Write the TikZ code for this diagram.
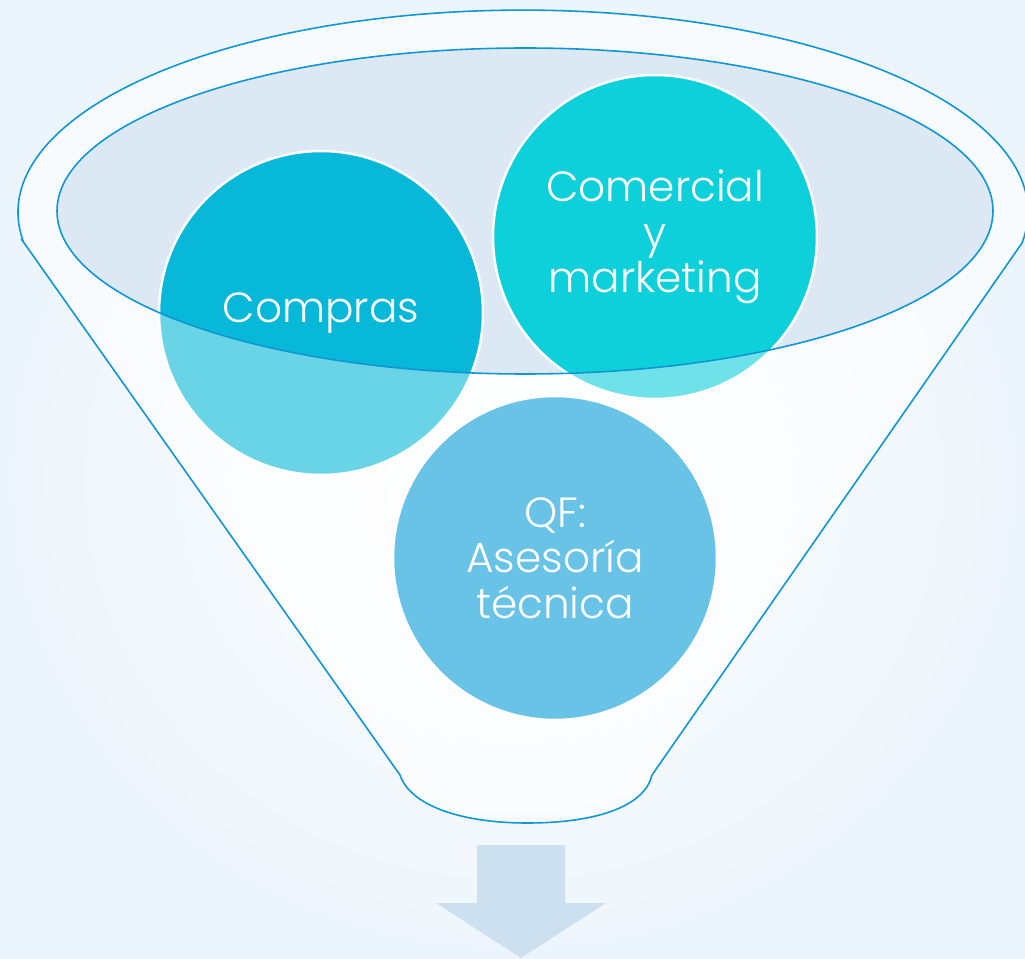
\documentclass[tikz,border=0pt]{standalone}
\usepackage{fontspec}
\setmainfont{Poppins}[UprightFont={* Light}]
\usepackage{tikz}
\usetikzlibrary{positioning}

\definecolor{bgblue}{HTML}{EDF5FC}
\definecolor{rimblue}{HTML}{0E96D5}
\definecolor{mouth}{HTML}{DCE8F4}
\definecolor{comprasdark}{HTML}{07B8D9}
\definecolor{comprasdim}{HTML}{6AD4E7}
\definecolor{comercdark}{HTML}{0DD0DA}
\definecolor{comercdim}{HTML}{6EE2E8}
\definecolor{qfblue}{HTML}{68C3E7}
\definecolor{arrowblue}{HTML}{CDE0F0}

\tikzset{
  rim/.style={draw=rimblue, line width=0.9pt},
  bubble/.style={circle, draw=white, line width=1.4pt, minimum size=6.48cm,
    inner sep=0pt, align=center, text=white, font=\fontsize{24}{26}\selectfont},
  intop/.style={path picture={\fill[#1] (mouthc) ellipse [x radius=468, y radius=163];}}
}

\begin{document}
\begin{tikzpicture}[x=0.02cm, y=-0.02cm]
      \shade [inner color=white, outer color=bgblue] (0, 0) rectangle (1025, 959);
      \useasboundingbox (0, 0) rectangle (1025, 959);
      \coordinate (mouthc) at (525, 211);

      % funnel body
      \draw [rim, fill=white, fill opacity=0.6] (22, 240) -- (400, 775)
        .. controls (410, 805) and (460, 823) .. (527, 823)
        .. controls (600, 823) and (645, 805) .. (652, 775)
        -- (1022, 243) arc [start angle=8.8, end angle=-188, x radius=505, y radius=202] -- cycle;
      \fill [mouth] (mouthc) ellipse [x radius=468, y radius=163];

      \node [bubble, fill=comprasdim, intop=comprasdark] (compras) at (321, 313) {Compras};
      \node [bubble, fill=comercdim, intop=comercdark] (comercial) at (655, 237) {Comercial\\y\\marketing};
      \node [bubble, fill=qfblue] (qf) at (555, 558) {QF:\\Asesoría\\técnica};

      \draw [rim] (mouthc) ellipse [x radius=468, y radius=163];

      \fill [arrowblue] (477, 845) -- (565, 845) -- (565, 903) -- (606, 903)
        -- (521, 958) -- (436, 903) -- (477, 903) -- cycle;
    \end{tikzpicture}
\end{document}
